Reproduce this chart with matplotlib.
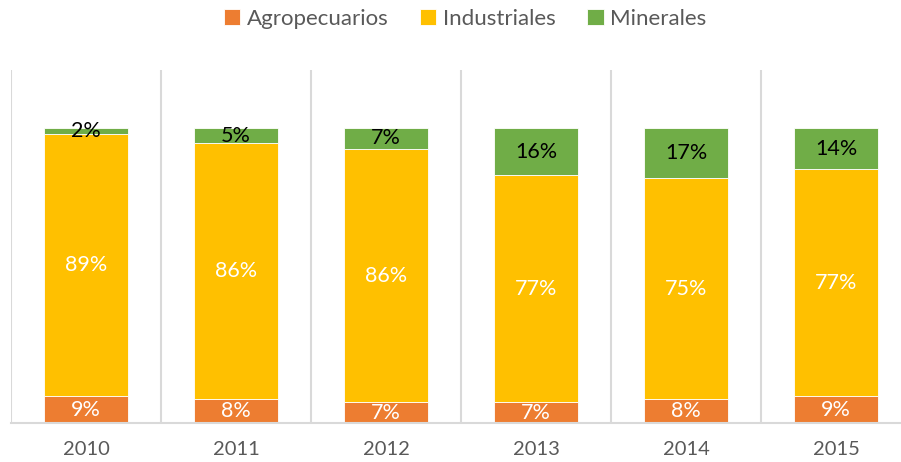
import numpy as np
import matplotlib.pyplot as plt

years = ["2010", "2011", "2012", "2013", "2014", "2015"]
agropecuarios = [9, 8, 7, 7, 8, 9]
industriales = [89, 86, 86, 77, 75, 77]
minerales = [2, 5, 7, 16, 17, 14]

series_names = ["Agropecuarios", "Industriales", "Minerales"]
colors = ["#ED7D31", "#FFC000", "#70AD47"]
label_colors = ["white", "white", "black"]

plt.rcParams['font.family'] = ['Lato', 'DejaVu Sans']

data = np.array([agropecuarios, industriales, minerales], dtype=float)
shares = data / data.sum(axis=0) * 100

fig = plt.figure(figsize=(9.01, 4.62), dpi=100)
ax = fig.add_axes([11 / 901, 39 / 462, 900 / 901, 353 / 462])

x = np.arange(len(years))
bottom = np.zeros(len(years))
for i, name in enumerate(series_names):
    bars = ax.bar(x, shares[i], 0.56, bottom=bottom, color=colors[i],
                  edgecolor="white", linewidth=0.6, label=name, zorder=2)
    for j, b in enumerate(bars):
        ax.text(b.get_x() + b.get_width() / 2, bottom[j] + shares[i][j] / 2,
                f"{data[i][j]:.0f}%", ha="center", va="center",
                fontsize=15.5, color=label_colors[i], zorder=3)
    bottom += shares[i]

ax.set_xlim(-0.5, len(years) - 0.5)
ax.set_ylim(0, 119.7)
for k in range(len(years)):
    ax.axvline(k - 0.5, color="#D9D9D9", linewidth=1.5, zorder=1)

ax.set_xticks(x)
ax.set_xticklabels(years, fontsize=14.5, color="#595959")
ax.tick_params(axis="x", length=0, pad=13)
ax.set_yticks([])
for s in ["top", "left", "right"]:
    ax.spines[s].set_visible(False)
ax.spines["bottom"].set_color("#D9D9D9")
ax.spines["bottom"].set_linewidth(1.5)

fig.legend(loc="center", bbox_to_anchor=(465 / 901, 1 - 19 / 462), ncol=3,
           frameon=False, fontsize=16, labelcolor="#595959",
           handlelength=0.75, handleheight=0.75, handletextpad=0.3,
           columnspacing=1.4)

fig.savefig("out.png", dpi=100)
